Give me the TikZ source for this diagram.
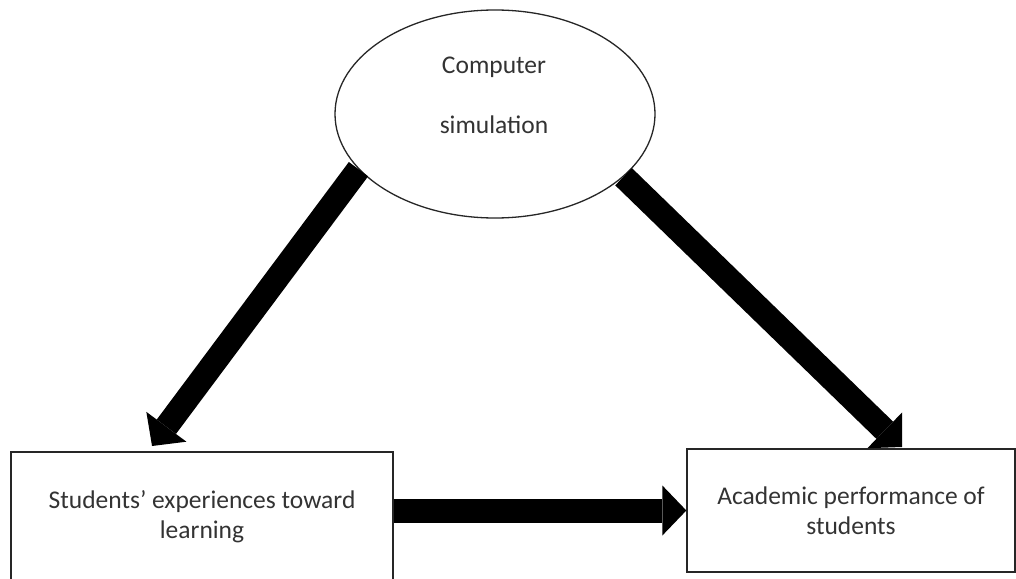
\documentclass[tikz,border=0pt]{standalone}
\usepackage{fontspec}
\setmainfont{Carlito}
\usetikzlibrary{arrows.meta,shapes.geometric}
\begin{document}
\begin{tikzpicture}[x=1pt,y=-1pt,
  every node/.style={font=\fontsize{25.5}{30}\selectfont, text=black!80},
  shapeline/.style={draw=black!85, line width=1.3pt},
  bigarrow/.style={line width=24pt, -{Triangle[length=24pt,width=50pt,line width=0pt]}},
  boxnode/.style={shapeline, rectangle, inner sep=0pt, align=center}]
\useasboundingbox (0,0) rectangle (1016,578);
\fill[white] (0,0) rectangle (1016,578);
% ellipse
\node[shapeline, ellipse, minimum width=320pt, minimum height=208pt, inner sep=0pt] (sim) at (495,114) {};
\node[align=center, font=\fontsize{25.5}{60}\selectfont] (simtext) at (494,95) {Computer\\simulation};
% boxes
\node[boxnode, minimum width=382pt, minimum height=130pt] (exp) at (202,517) {Students’ experiences toward\\learning};
\node[boxnode, minimum width=328pt, minimum height=123pt] (perf) at (851,510.5) {Academic performance of\\students};
% arrow ends
\coordinate (t1) at (152,446);
\coordinate (t2) at (902,447);
\draw[bigarrow] (sim.202.5) -- (t1);
\draw[bigarrow] (sim.-26) -- (t2);
\draw[bigarrow] (exp.east |- perf.west) -- (perf.west);
\end{tikzpicture}
\end{document}
